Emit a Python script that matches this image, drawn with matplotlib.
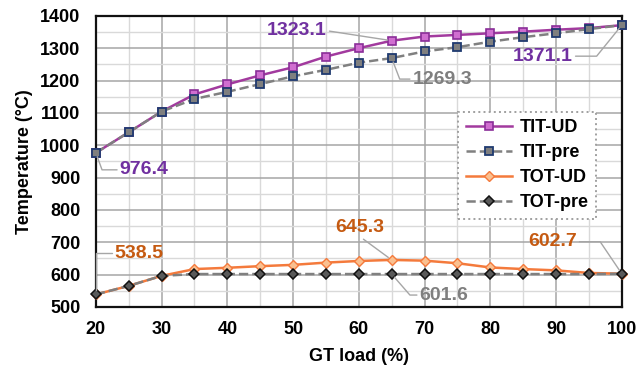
import numpy as np
import matplotlib
matplotlib.use("Agg")
import matplotlib.pyplot as plt
from matplotlib.ticker import MultipleLocator

plt.rcParams['font.family'] = ['Liberation Sans', 'DejaVu Sans']
plt.rcParams['font.weight'] = 'bold'

# data
load = [20, 25, 30, 35, 40, 45, 50, 55, 60, 65, 70, 75, 80, 85, 90, 95, 100]
tit_ud = [976.4, 1040, 1104, 1157, 1188, 1216, 1241, 1274, 1300, 1323.1,
          1336, 1341, 1346, 1351, 1357, 1362, 1371.1]
tit_pre = [976.4, 1040, 1104, 1143, 1165, 1189, 1213, 1233, 1255, 1269.3,
           1290, 1303, 1320, 1334, 1346, 1359, 1371.1]
tot_ud = [538.5, 565, 596, 617, 621, 626, 630, 637, 642, 645.3,
          643, 635, 622, 617, 613, 605, 602.7]
tot_pre = [538.5, 565, 596, 601.6, 601.6, 601.6, 601.6, 601.6, 601.6, 601.6,
           601.6, 601.6, 601.6, 601.6, 601.6, 601.6, 602.7]

fig = plt.figure(figsize=(6.39, 3.68), dpi=100)
ax = fig.add_axes([0.150, 0.166, 0.823, 0.791])

ax.plot(load, tit_ud, '-s', color='#A23A9E', lw=1.8, ms=5.5, clip_on=False,
        mfc='#D06ED0', mec='#8A2E98', mew=1.2, label='TIT-UD', zorder=3)
ax.plot(load, tit_pre, '--s', color='#808080', lw=1.8, ms=5.5, clip_on=False,
        mfc='#7F7F7F', mec='#1F3A70', mew=1.3, label='TIT-pre', zorder=4)
ax.plot(load, tot_ud, '-D', color='#F47A3C', lw=1.8, ms=5, clip_on=False,
        mfc='#FAC090', mec='#F47A3C', mew=1.0, label='TOT-UD', zorder=3)
ax.plot(load, tot_pre, '--D', color='#808080', lw=1.8, ms=5, clip_on=False,
        mfc='#595959', mec='#111111', mew=1.1, label='TOT-pre', zorder=4)

ax.set_xlim(20, 100)
ax.set_ylim(500, 1400)
ax.xaxis.set_major_locator(MultipleLocator(10))
ax.xaxis.set_minor_locator(MultipleLocator(5))
ax.yaxis.set_major_locator(MultipleLocator(100))
ax.yaxis.set_minor_locator(MultipleLocator(50))
ax.grid(which='major', color='#A6A6A6', lw=1.1, zorder=0)
ax.grid(which='minor', color='#D9D9D9', lw=1.0, zorder=0)
ax.set_axisbelow(True)
for s in ax.spines.values():
    s.set_color('#111111')
    s.set_linewidth(1.6)

ax.tick_params(which='both', length=0)
ax.tick_params(axis='y', pad=11, labelsize=13)
ax.tick_params(axis='x', pad=10, labelsize=13)
ax.set_xlabel('GT load (%)', fontsize=13, fontweight='bold', labelpad=7)
ax.set_ylabel('Temperature (\u00b0C)', fontsize=13, fontweight='bold', labelpad=5)

# point labels: (series, index, colour, dx, dy in px, ha, connection)
purple = '#7030A0'
grey = '#7F7F7F'
orange = '#C55A11'
notes = [
    (tit_ud, 0, purple, 24, -17, 'left', 'angle,angleA=0,angleB=-70'),
    (tit_ud, 9, purple, -65, 10, 'right', 'arc3'),
    (tit_pre, 9, grey, 21, -21, 'left', 'angle,angleA=0,angleB=-69'),
    (tit_ud, 16, purple, -49, -31, 'right', 'angle,angleA=0,angleB=51'),
    (tot_ud, 0, orange, 19, 41, 'left', 'angle,angleA=0,angleB=90'),
    (tot_ud, 9, orange, -32, 32, 'center', 'arc3'),
    (tot_pre, 9, grey, 28, -21, 'left', 'angle,angleA=0,angleB=-49'),
    (tot_ud, 16, orange, -45, 32, 'right', 'angle,angleA=0,angleB=-56'),
]
for series, i, col, dx, dy, ha, conn in notes:
    relx = {'left': 0.0, 'right': 1.0, 'center': 0.5}[ha]
    rely = 0.5 if ha != 'center' else 0.0
    ax.annotate(f'{series[i]:.1f}', xy=(load[i], series[i]),
                xytext=(dx * 0.72, dy * 0.72), textcoords='offset points',
                ha=ha, va='center', color=col, fontsize=14, fontweight='bold',
                annotation_clip=False, zorder=6,
                arrowprops=dict(arrowstyle='-', color='#A6A6A6', lw=1.0,
                                shrinkA=0, shrinkB=3, relpos=(relx, rely),
                                connectionstyle=conn))

leg = ax.legend(loc='upper right', bbox_to_anchor=(0.968, 0.701),
                fontsize=13, frameon=True, fancybox=False, framealpha=1,
                handlelength=2.6, borderpad=0.4, labelspacing=0.45,
                handletextpad=0.4)
leg.get_frame().set_edgecolor('#A0A0A0')
leg.get_frame().set_linestyle(':')
leg.get_frame().set_linewidth(1.4)
for t in leg.get_texts():
    t.set_fontweight('bold')

fig.savefig('out.png', dpi=100)
